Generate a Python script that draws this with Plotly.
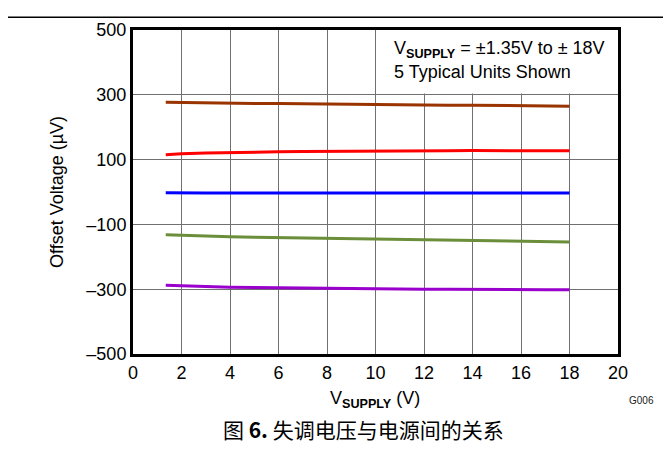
import plotly.graph_objects as go

# ---- data ----
vsupply = [1.35, 2, 3, 4, 5, 6, 7, 8, 9, 10, 11, 12, 13, 14, 15, 16, 17, 18]
unit1 = [277, 276, 275, 274, 273, 273, 272, 271, 271, 270, 270, 269, 268, 268, 267, 267, 266, 265]
unit2 = [115, 118, 120, 122, 123, 124, 125, 125, 126, 126, 127, 127, 127, 128, 128, 127, 127, 127]
unit3 = [-2, -3, -3, -3, -2, -3, -3, -3, -2, -2, -3, -3, -2, -3, -3, -2, -3, -3]
unit4 = [-132, -134, -136, -138, -140, -141, -143, -144, -145, -146, -147, -148, -149, -150, -151, -152, -153, -154]
unit5 = [-288, -290, -292, -294, -295, -296, -297, -298, -298, -299, -299, -300, -300, -301, -301, -301, -302, -302]
series = [unit1, unit2, unit3, unit4, unit5]
colors = ["#993300", "#FF0000", "#0000FF", "#6B8E3A", "#9900CC"]

xticks = [0, 2, 4, 6, 8, 10, 12, 14, 16, 18, 20]
yticks = [-500, -300, -100, 100, 300, 500]
yticktext = ["\u2013500", "\u2013300", "\u2013100", "100", "300", "500"]

FONT = "Liberation Sans, Arial, sans-serif"
CJK = "Noto Sans CJK SC"

fig = go.Figure()
for vals, col in zip(series, colors):
    fig.add_trace(go.Scatter(x=vsupply, y=vals, mode="lines",
                             line=dict(color=col, width=3), showlegend=False,
                             hoverinfo="skip"))

OFF = 8  # page body margin
W, H = 671, 475
L, T = 133 - OFF, 25 - OFF
pw, ph = 485, 329
R, B = W - L - pw, H - T - ph


def px(sx):
    return (sx - OFF - L) / pw


def py(sy):
    return 1 - (sy - OFF - T) / ph


fig.update_layout(
    width=W, height=H,
    margin=dict(l=L, r=R, t=T, b=B),
    paper_bgcolor="white", plot_bgcolor="white",
    font=dict(family=FONT, size=17, color="black"),
    xaxis=dict(range=[0, 20], tickvals=xticks, ticktext=[str(v) for v in xticks],
               showgrid=True, gridcolor="#707070", gridwidth=1,
               zeroline=False, showline=True, mirror=True, linecolor="black",
               linewidth=3, ticks="", tickfont=dict(size=18)),
    yaxis=dict(range=[-500, 500], tickvals=yticks, ticktext=yticktext,
               showgrid=True, gridcolor="#707070", gridwidth=1,
               zeroline=False, showline=True, mirror=True, linecolor="black",
               linewidth=3, ticks="", tickfont=dict(size=18)),
)

# white box behind the note, hiding the grid
fig.add_shape(type="rect", xref="x", yref="y", x0=10.1, x1=20, y0=304, y1=500,
              fillcolor="white", line=dict(width=0), layer="between")

fig.add_annotation(x=10.7, y=439, xref="x", yref="y", xanchor="left", yanchor="middle",
                   text="V<sub><b>SUPPLY</b></sub> = ±1.35V to ± 18V", showarrow=False,
                   font=dict(size=18))
fig.add_annotation(x=10.7, y=369, xref="x", yref="y", xanchor="left", yanchor="middle",
                   text="5 Typical Units Shown", showarrow=False, font=dict(size=18))

# axis titles and labels
fig.add_annotation(x=px(375), y=py(400), xref="paper", yref="paper",
                   text="V<sub><b>SUPPLY</b></sub> (V)", showarrow=False,
                   xanchor="center", yanchor="middle", font=dict(size=18))
fig.add_annotation(x=px(57), y=0.5, xref="paper", yref="paper",
                   text="Offset Voltage (µV)", textangle=-90, showarrow=False,
                   xanchor="center", yanchor="middle", font=dict(size=18))
fig.add_annotation(x=px(641), y=py(401), xref="paper", yref="paper",
                   text="G006", showarrow=False, xanchor="center", yanchor="middle",
                   font=dict(size=10, color="#222222"))
fig.add_annotation(x=px(363), y=py(430), xref="paper", yref="paper",
                   text="图 <b>6.</b> 失调电压与电源间的关系", showarrow=False,
                   xanchor="center", yanchor="middle",
                   font=dict(size=21, family=CJK + ", " + FONT))

# top rule
fig.add_shape(type="line", xref="paper", yref="paper",
              x0=px(0), x1=px(671), y0=py(12), y1=py(12),
              line=dict(color="black", width=1.5))

fig.write_html("out.html")
